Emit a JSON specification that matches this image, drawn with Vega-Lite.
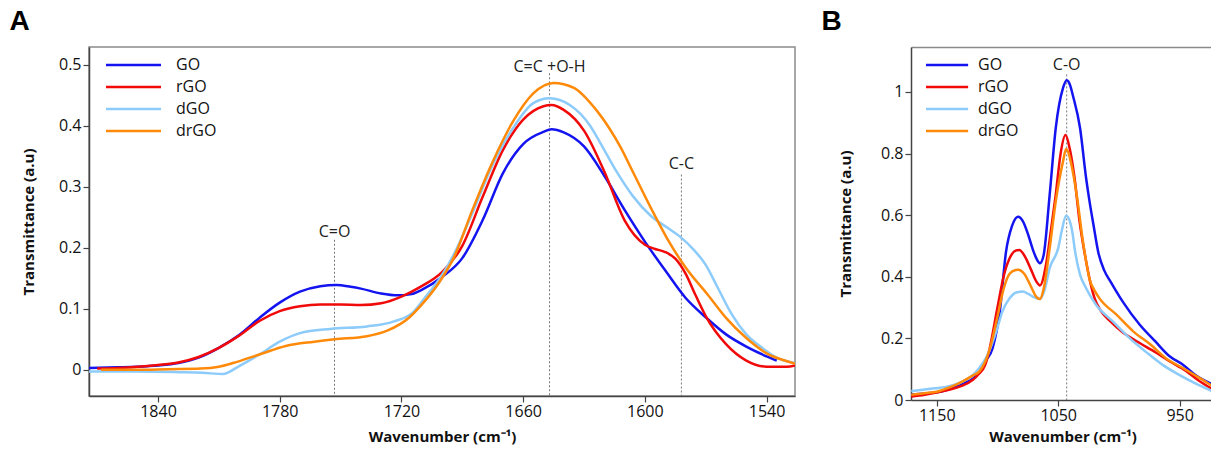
{
"$schema": "https://vega.github.io/schema/vega-lite/v6.json",
"background": "white",
"padding": {"left": 8, "top": 7, "right": 0, "bottom": 0},
"spacing": 25,
"config": {
  "font": "Open Sans",
  "view": {"stroke": "#8a8a8a", "strokeWidth": 1.5},
  "axis": {"domainColor": "#444", "domainWidth": 1.5, "tickColor": "#444", "tickWidth": 1.2, "tickSize": 6, "labelColor": "#111", "titleColor": "#111", "labelFontSize": 16, "titleFontSize": 15, "titleFontWeight": "bold", "grid": false, "labelFlush": false, "labelFont": "Open Sans", "titleFont": "Open Sans"},
  "legend": {"labelFont": "Open Sans"}
},
"resolve": {"legend": {"color": "independent"}},
"datasets": {
  "specA": [
    {"wn":1874,"t":0.003,"s":"GO"},{"wn":1860,"t":0.004,"s":"GO"},{"wn":1850,"t":0.005,"s":"GO"},{"wn":1840,"t":0.007,"s":"GO"},{"wn":1830,"t":0.011,"s":"GO"},{"wn":1820,"t":0.020,"s":"GO"},{"wn":1810,"t":0.036,"s":"GO"},{"wn":1800,"t":0.057,"s":"GO"},{"wn":1790,"t":0.085,"s":"GO"},{"wn":1780,"t":0.110,"s":"GO"},{"wn":1770,"t":0.128,"s":"GO"},{"wn":1760,"t":0.137,"s":"GO"},{"wn":1752,"t":0.139,"s":"GO"},{"wn":1745,"t":0.136,"s":"GO"},{"wn":1740,"t":0.133,"s":"GO"},{"wn":1730,"t":0.125,"s":"GO"},{"wn":1722,"t":0.122,"s":"GO"},{"wn":1715,"t":0.124,"s":"GO"},{"wn":1710,"t":0.131,"s":"GO"},{"wn":1700,"t":0.152,"s":"GO"},{"wn":1690,"t":0.183,"s":"GO"},{"wn":1680,"t":0.245,"s":"GO"},{"wn":1670,"t":0.322,"s":"GO"},{"wn":1660,"t":0.370,"s":"GO"},{"wn":1650,"t":0.390,"s":"GO"},{"wn":1646,"t":0.394,"s":"GO"},{"wn":1640,"t":0.389,"s":"GO"},{"wn":1630,"t":0.366,"s":"GO"},{"wn":1620,"t":0.318,"s":"GO"},{"wn":1610,"t":0.262,"s":"GO"},{"wn":1600,"t":0.210,"s":"GO"},{"wn":1590,"t":0.163,"s":"GO"},{"wn":1580,"t":0.118,"s":"GO"},{"wn":1570,"t":0.086,"s":"GO"},{"wn":1560,"t":0.058,"s":"GO"},{"wn":1550,"t":0.038,"s":"GO"},{"wn":1540,"t":0.022,"s":"GO"},{"wn":1535,"t":0.015,"s":"GO"},
    {"wn":1870,"t":0.002,"s":"rGO"},{"wn":1860,"t":0.003,"s":"rGO"},{"wn":1850,"t":0.005,"s":"rGO"},{"wn":1840,"t":0.008,"s":"rGO"},{"wn":1830,"t":0.012,"s":"rGO"},{"wn":1820,"t":0.021,"s":"rGO"},{"wn":1810,"t":0.036,"s":"rGO"},{"wn":1800,"t":0.056,"s":"rGO"},{"wn":1790,"t":0.080,"s":"rGO"},{"wn":1780,"t":0.096,"s":"rGO"},{"wn":1770,"t":0.104,"s":"rGO"},{"wn":1760,"t":0.107,"s":"rGO"},{"wn":1750,"t":0.107,"s":"rGO"},{"wn":1740,"t":0.106,"s":"rGO"},{"wn":1730,"t":0.109,"s":"rGO"},{"wn":1720,"t":0.120,"s":"rGO"},{"wn":1710,"t":0.137,"s":"rGO"},{"wn":1700,"t":0.160,"s":"rGO"},{"wn":1690,"t":0.203,"s":"rGO"},{"wn":1680,"t":0.283,"s":"rGO"},{"wn":1670,"t":0.360,"s":"rGO"},{"wn":1660,"t":0.410,"s":"rGO"},{"wn":1650,"t":0.432,"s":"rGO"},{"wn":1646,"t":0.434,"s":"rGO"},{"wn":1640,"t":0.426,"s":"rGO"},{"wn":1630,"t":0.392,"s":"rGO"},{"wn":1620,"t":0.325,"s":"rGO"},{"wn":1610,"t":0.245,"s":"rGO"},{"wn":1600,"t":0.205,"s":"rGO"},{"wn":1595,"t":0.198,"s":"rGO"},{"wn":1590,"t":0.193,"s":"rGO"},{"wn":1585,"t":0.182,"s":"rGO"},{"wn":1580,"t":0.158,"s":"rGO"},{"wn":1575,"t":0.122,"s":"rGO"},{"wn":1570,"t":0.088,"s":"rGO"},{"wn":1560,"t":0.042,"s":"rGO"},{"wn":1550,"t":0.015,"s":"rGO"},{"wn":1540,"t":0.005,"s":"rGO"},{"wn":1530,"t":0.005,"s":"rGO"},{"wn":1526,"t":0.007,"s":"rGO"},
    {"wn":1874,"t":-0.003,"s":"dGO"},{"wn":1850,"t":-0.003,"s":"dGO"},{"wn":1830,"t":-0.004,"s":"dGO"},{"wn":1818,"t":-0.005,"s":"dGO"},{"wn":1808,"t":-0.007,"s":"dGO"},{"wn":1800,"t":0.006,"s":"dGO"},{"wn":1790,"t":0.025,"s":"dGO"},{"wn":1780,"t":0.046,"s":"dGO"},{"wn":1770,"t":0.060,"s":"dGO"},{"wn":1755,"t":0.067,"s":"dGO"},{"wn":1737,"t":0.071,"s":"dGO"},{"wn":1724,"t":0.079,"s":"dGO"},{"wn":1714,"t":0.095,"s":"dGO"},{"wn":1708,"t":0.120,"s":"dGO"},{"wn":1701,"t":0.150,"s":"dGO"},{"wn":1694,"t":0.190,"s":"dGO"},{"wn":1686,"t":0.249,"s":"dGO"},{"wn":1675,"t":0.336,"s":"dGO"},{"wn":1665,"t":0.396,"s":"dGO"},{"wn":1655,"t":0.437,"s":"dGO"},{"wn":1647,"t":0.445,"s":"dGO"},{"wn":1637,"t":0.434,"s":"dGO"},{"wn":1627,"t":0.400,"s":"dGO"},{"wn":1622,"t":0.372,"s":"dGO"},{"wn":1614,"t":0.325,"s":"dGO"},{"wn":1606,"t":0.285,"s":"dGO"},{"wn":1597,"t":0.252,"s":"dGO"},{"wn":1589,"t":0.233,"s":"dGO"},{"wn":1583,"t":0.219,"s":"dGO"},{"wn":1576,"t":0.197,"s":"dGO"},{"wn":1570,"t":0.172,"s":"dGO"},{"wn":1564,"t":0.134,"s":"dGO"},{"wn":1557,"t":0.090,"s":"dGO"},{"wn":1550,"t":0.058,"s":"dGO"},{"wn":1543,"t":0.038,"s":"dGO"},{"wn":1535,"t":0.020,"s":"dGO"},{"wn":1526,"t":0.011,"s":"dGO"},
    {"wn":1868,"t":0.000,"s":"drGO"},{"wn":1850,"t":0.000,"s":"drGO"},{"wn":1835,"t":0.001,"s":"drGO"},{"wn":1819,"t":0.002,"s":"drGO"},{"wn":1810,"t":0.005,"s":"drGO"},{"wn":1803,"t":0.011,"s":"drGO"},{"wn":1790,"t":0.025,"s":"drGO"},{"wn":1777,"t":0.039,"s":"drGO"},{"wn":1763,"t":0.046,"s":"drGO"},{"wn":1753,"t":0.050,"s":"drGO"},{"wn":1737,"t":0.055,"s":"drGO"},{"wn":1727,"t":0.064,"s":"drGO"},{"wn":1716,"t":0.086,"s":"drGO"},{"wn":1711,"t":0.103,"s":"drGO"},{"wn":1701,"t":0.145,"s":"drGO"},{"wn":1694,"t":0.185,"s":"drGO"},{"wn":1685,"t":0.262,"s":"drGO"},{"wn":1675,"t":0.341,"s":"drGO"},{"wn":1665,"t":0.407,"s":"drGO"},{"wn":1655,"t":0.453,"s":"drGO"},{"wn":1645,"t":0.470,"s":"drGO"},{"wn":1635,"t":0.462,"s":"drGO"},{"wn":1625,"t":0.430,"s":"drGO"},{"wn":1617,"t":0.393,"s":"drGO"},{"wn":1612,"t":0.365,"s":"drGO"},{"wn":1606,"t":0.325,"s":"drGO"},{"wn":1597,"t":0.265,"s":"drGO"},{"wn":1589,"t":0.215,"s":"drGO"},{"wn":1580,"t":0.168,"s":"drGO"},{"wn":1569,"t":0.123,"s":"drGO"},{"wn":1560,"t":0.085,"s":"drGO"},{"wn":1550,"t":0.052,"s":"drGO"},{"wn":1540,"t":0.027,"s":"drGO"},{"wn":1530,"t":0.014,"s":"drGO"},{"wn":1526,"t":0.010,"s":"drGO"}
  ],
  "specB": [
    {"wn":1171,"t":0.018,"s":"GO"},{"wn":1160,"t":0.021,"s":"GO"},{"wn":1150,"t":0.025,"s":"GO"},{"wn":1140,"t":0.035,"s":"GO"},{"wn":1134,"t":0.043,"s":"GO"},{"wn":1127,"t":0.055,"s":"GO"},{"wn":1120,"t":0.070,"s":"GO"},{"wn":1114,"t":0.095,"s":"GO"},{"wn":1110,"t":0.125,"s":"GO"},{"wn":1104,"t":0.168,"s":"GO"},{"wn":1098,"t":0.290,"s":"GO"},{"wn":1093,"t":0.480,"s":"GO"},{"wn":1088,"t":0.565,"s":"GO"},{"wn":1083,"t":0.595,"s":"GO"},{"wn":1079,"t":0.580,"s":"GO"},{"wn":1075,"t":0.540,"s":"GO"},{"wn":1071,"t":0.490,"s":"GO"},{"wn":1068,"t":0.460,"s":"GO"},{"wn":1065,"t":0.444,"s":"GO"},{"wn":1062,"t":0.470,"s":"GO"},{"wn":1057,"t":0.667,"s":"GO"},{"wn":1052,"t":0.883,"s":"GO"},{"wn":1046,"t":1.013,"s":"GO"},{"wn":1043,"t":1.038,"s":"GO"},{"wn":1040,"t":1.020,"s":"GO"},{"wn":1038,"t":0.990,"s":"GO"},{"wn":1032,"t":0.883,"s":"GO"},{"wn":1027,"t":0.720,"s":"GO"},{"wn":1024,"t":0.640,"s":"GO"},{"wn":1021,"t":0.570,"s":"GO"},{"wn":1017,"t":0.480,"s":"GO"},{"wn":1012,"t":0.420,"s":"GO"},{"wn":1007,"t":0.385,"s":"GO"},{"wn":997,"t":0.320,"s":"GO"},{"wn":983,"t":0.245,"s":"GO"},{"wn":970,"t":0.190,"s":"GO"},{"wn":958,"t":0.141,"s":"GO"},{"wn":947,"t":0.114,"s":"GO"},{"wn":937,"t":0.081,"s":"GO"},{"wn":922,"t":0.049,"s":"GO"},
    {"wn":1171,"t":0.011,"s":"rGO"},{"wn":1160,"t":0.017,"s":"rGO"},{"wn":1150,"t":0.024,"s":"rGO"},{"wn":1140,"t":0.033,"s":"rGO"},{"wn":1130,"t":0.045,"s":"rGO"},{"wn":1120,"t":0.066,"s":"rGO"},{"wn":1116,"t":0.082,"s":"rGO"},{"wn":1110,"t":0.115,"s":"rGO"},{"wn":1107,"t":0.157,"s":"rGO"},{"wn":1100,"t":0.300,"s":"rGO"},{"wn":1095,"t":0.400,"s":"rGO"},{"wn":1090,"t":0.460,"s":"rGO"},{"wn":1085,"t":0.485,"s":"rGO"},{"wn":1082,"t":0.487,"s":"rGO"},{"wn":1078,"t":0.470,"s":"rGO"},{"wn":1072,"t":0.420,"s":"rGO"},{"wn":1068,"t":0.385,"s":"rGO"},{"wn":1065,"t":0.372,"s":"rGO"},{"wn":1060,"t":0.440,"s":"rGO"},{"wn":1056,"t":0.550,"s":"rGO"},{"wn":1052,"t":0.667,"s":"rGO"},{"wn":1048,"t":0.800,"s":"rGO"},{"wn":1044,"t":0.860,"s":"rGO"},{"wn":1040.6,"t":0.818,"s":"rGO"},{"wn":1036.5,"t":0.720,"s":"rGO"},{"wn":1032.4,"t":0.580,"s":"rGO"},{"wn":1028,"t":0.472,"s":"rGO"},{"wn":1024,"t":0.390,"s":"rGO"},{"wn":1020,"t":0.330,"s":"rGO"},{"wn":1015,"t":0.290,"s":"rGO"},{"wn":1007,"t":0.255,"s":"rGO"},{"wn":997,"t":0.220,"s":"rGO"},{"wn":985,"t":0.190,"s":"rGO"},{"wn":970,"t":0.155,"s":"rGO"},{"wn":958,"t":0.125,"s":"rGO"},{"wn":945,"t":0.095,"s":"rGO"},{"wn":935,"t":0.065,"s":"rGO"},{"wn":922,"t":0.033,"s":"rGO"},
    {"wn":1171,"t":0.029,"s":"dGO"},{"wn":1160,"t":0.034,"s":"dGO"},{"wn":1151,"t":0.038,"s":"dGO"},{"wn":1140,"t":0.045,"s":"dGO"},{"wn":1129,"t":0.060,"s":"dGO"},{"wn":1118,"t":0.090,"s":"dGO"},{"wn":1107,"t":0.157,"s":"dGO"},{"wn":1100,"t":0.235,"s":"dGO"},{"wn":1096,"t":0.287,"s":"dGO"},{"wn":1090,"t":0.330,"s":"dGO"},{"wn":1085,"t":0.348,"s":"dGO"},{"wn":1079,"t":0.352,"s":"dGO"},{"wn":1075,"t":0.345,"s":"dGO"},{"wn":1071,"t":0.336,"s":"dGO"},{"wn":1065,"t":0.328,"s":"dGO"},{"wn":1061,"t":0.360,"s":"dGO"},{"wn":1057,"t":0.428,"s":"dGO"},{"wn":1050,"t":0.493,"s":"dGO"},{"wn":1047,"t":0.550,"s":"dGO"},{"wn":1043.5,"t":0.598,"s":"dGO"},{"wn":1040,"t":0.575,"s":"dGO"},{"wn":1038,"t":0.537,"s":"dGO"},{"wn":1036.5,"t":0.493,"s":"dGO"},{"wn":1032,"t":0.407,"s":"dGO"},{"wn":1027,"t":0.363,"s":"dGO"},{"wn":1019,"t":0.310,"s":"dGO"},{"wn":1005,"t":0.255,"s":"dGO"},{"wn":991,"t":0.200,"s":"dGO"},{"wn":978,"t":0.157,"s":"dGO"},{"wn":964,"t":0.114,"s":"dGO"},{"wn":950,"t":0.081,"s":"dGO"},{"wn":937,"t":0.054,"s":"dGO"},{"wn":922,"t":0.027,"s":"dGO"},
    {"wn":1171,"t":0.017,"s":"drGO"},{"wn":1160,"t":0.022,"s":"drGO"},{"wn":1150,"t":0.027,"s":"drGO"},{"wn":1140,"t":0.040,"s":"drGO"},{"wn":1129,"t":0.060,"s":"drGO"},{"wn":1120,"t":0.080,"s":"drGO"},{"wn":1115,"t":0.092,"s":"drGO"},{"wn":1107,"t":0.157,"s":"drGO"},{"wn":1100,"t":0.270,"s":"drGO"},{"wn":1095,"t":0.360,"s":"drGO"},{"wn":1090,"t":0.410,"s":"drGO"},{"wn":1085,"t":0.422,"s":"drGO"},{"wn":1083,"t":0.423,"s":"drGO"},{"wn":1078,"t":0.410,"s":"drGO"},{"wn":1072,"t":0.365,"s":"drGO"},{"wn":1068,"t":0.335,"s":"drGO"},{"wn":1065,"t":0.328,"s":"drGO"},{"wn":1062,"t":0.360,"s":"drGO"},{"wn":1057,"t":0.493,"s":"drGO"},{"wn":1052,"t":0.645,"s":"drGO"},{"wn":1046,"t":0.775,"s":"drGO"},{"wn":1043.5,"t":0.815,"s":"drGO"},{"wn":1038,"t":0.742,"s":"drGO"},{"wn":1034,"t":0.645,"s":"drGO"},{"wn":1030,"t":0.525,"s":"drGO"},{"wn":1027,"t":0.450,"s":"drGO"},{"wn":1024,"t":0.390,"s":"drGO"},{"wn":1020,"t":0.355,"s":"drGO"},{"wn":1016,"t":0.330,"s":"drGO"},{"wn":1002,"t":0.277,"s":"drGO"},{"wn":988,"t":0.222,"s":"drGO"},{"wn":974,"t":0.180,"s":"drGO"},{"wn":961,"t":0.135,"s":"drGO"},{"wn":947,"t":0.103,"s":"drGO"},{"wn":933,"t":0.070,"s":"drGO"},{"wn":922,"t":0.043,"s":"drGO"}
  ],
  "annA": [
    {"wn":1753,"top":0.213,"ly":0.226,"label":"C=O"},
    {"wn":1647,"top":0.486,"ly":0.497,"label":"C=C +O-H"},
    {"wn":1582,"top":0.320,"ly":0.337,"label":"C-C"}
  ],
  "annB": [
    {"wn":1043,"top":1.057,"ly":1.089,"label":"C-O"}
  ]
},
"hconcat": [
  {
    "width": 706, "height": 349,
    "title": {"text": "A", "anchor": "start", "fontSize": 28, "fontWeight": "bold", "font": "Liberation Sans", "color": "#000", "dx": -12, "offset": -11, "baseline": "alphabetic"},
    "layer": [
      {"data": {"name": "annA"}, "mark": {"type": "rule", "color": "#777", "strokeWidth": 1, "strokeDash": [2, 2]},
       "encoding": {"x": {"field": "wn", "type": "quantitative"}, "y": {"field": "top", "type": "quantitative"}, "y2": {"value": "height"}}},
      {"data": {"name": "annA"}, "mark": {"type": "text", "fontSize": 16, "font": "Open Sans", "color": "#222", "baseline": "middle"},
       "encoding": {"x": {"field": "wn", "type": "quantitative"}, "y": {"field": "ly", "type": "quantitative"}, "text": {"field": "label"}}},
      {"data": {"name": "specA"}, "mark": {"type": "line", "interpolate": "monotone", "strokeWidth": 2.5, "clip": true},
       "encoding": {
         "x": {"field": "wn", "type": "quantitative", "scale": {"domain": [1526, 1874], "reverse": true, "nice": false, "zero": false},
               "axis": {"values": [1840, 1780, 1720, 1660, 1600, 1540], "format": "d", "title": "Wavenumber (cm⁻¹)", "labelPadding": 1, "titlePadding": 10}},
         "y": {"field": "t", "type": "quantitative", "scale": {"domain": [-0.043, 0.529], "nice": false, "zero": false},
               "axis": {"values": [0, 0.1, 0.2, 0.3, 0.4, 0.5], "format": "~g", "title": "Transmittance (a.u)", "titlePadding": 22}},
         "color": {"field": "s", "type": "nominal", "scale": {"domain": ["GO", "rGO", "dGO", "drGO"], "range": ["#1414F0", "#F00A0A", "#8CCBFA", "#FF8A0A"]},
                   "legend": {"orient": "none", "legendX": 9, "legendY": 10, "title": null, "symbolType": "M0,0H10", "symbolSize": 121, "symbolStrokeWidth": 2.5, "labelFontSize": 16, "labelOffset": 62, "rowPadding": 6, "padding": 0, "labelColor": "#111"}}
       }}
    ]
  },
  {
    "width": 303, "height": 353,
    "view": {"stroke": null},
    "title": {"text": "B", "anchor": "start", "fontSize": 28, "fontWeight": "bold", "font": "Liberation Sans", "color": "#000", "dx": -17, "offset": -11, "baseline": "alphabetic"},
    "resolve": {"axis": {"x": "independent"}},
    "layer": [
      {"data": {"name": "annB"}, "mark": {"type": "rule", "color": "#777", "strokeWidth": 1, "strokeDash": [2, 2]},
       "encoding": {"x": {"field": "wn", "type": "quantitative", "axis": {"orient": "top", "labels": false, "ticks": false, "title": null, "domainColor": "#8a8a8a"}}, "y": {"field": "top", "type": "quantitative"}, "y2": {"value": "height"}}},
      {"data": {"name": "annB"}, "mark": {"type": "text", "fontSize": 16, "font": "Open Sans", "color": "#222", "baseline": "middle"},
       "encoding": {"x": {"field": "wn", "type": "quantitative", "axis": null}, "y": {"field": "ly", "type": "quantitative"}, "text": {"field": "label"}}},
      {"data": {"name": "specB"}, "mark": {"type": "line", "interpolate": "monotone", "strokeWidth": 2.5, "clip": true},
       "encoding": {
         "x": {"field": "wn", "type": "quantitative", "scale": {"domain": [921.7, 1171.2], "reverse": true, "nice": false, "zero": false},
               "axis": {"orient": "bottom", "values": [1150, 1050, 950], "format": "d", "title": "Wavenumber (cm⁻¹)", "labelPadding": 1, "titlePadding": 6}},
         "y": {"field": "t", "type": "quantitative", "scale": {"domain": [0, 1.146], "nice": false, "zero": false},
               "axis": {"values": [0, 0.2, 0.4, 0.6, 0.8, 1], "format": "~g", "title": "Transmittance (a.u)", "titlePadding": 27}},
         "color": {"field": "s", "type": "nominal", "scale": {"domain": ["GO", "rGO", "dGO", "drGO"], "range": ["#1414F0", "#F00A0A", "#8CCBFA", "#FF8A0A"]},
                   "legend": {"orient": "none", "legendX": 7, "legendY": 10, "title": null, "symbolType": "M0,0H10", "symbolSize": 71, "symbolStrokeWidth": 2.5, "labelFontSize": 16, "labelOffset": 44, "rowPadding": 6, "padding": 0, "labelColor": "#111"}}
       }}
    ]
  }
]
}
